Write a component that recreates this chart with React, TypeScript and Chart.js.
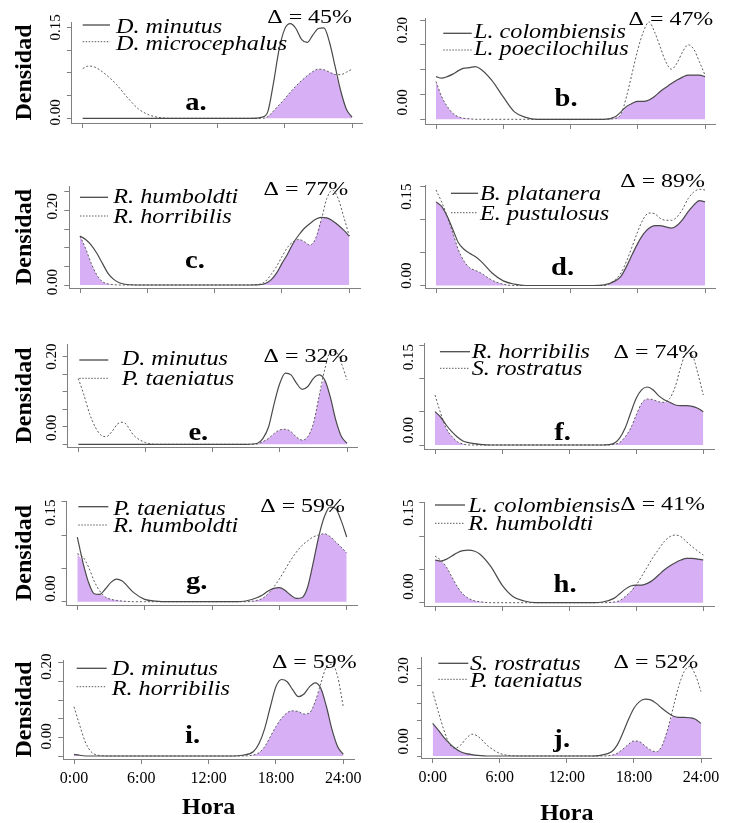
import React, { useEffect, useRef } from 'react';
import { Chart, registerables } from 'chart.js';

Chart.register(...registerables);

const W = 730;
const H = 823;
const FONT = "'Liberation Serif', 'Times New Roman', Times, serif";
const AXIS_COLOR = '#808080';
const SOLID_COLOR = '#4a4a4a';
const DOT_COLOR = '#5c5c5c';
const FILL_COLOR = '#d7aff5';

// ---------- data ----------
const HOURS = [0, 0.5, 1, 1.5, 2, 2.5, 3, 3.5, 4, 5, 6, 7, 8, 9, 10, 11, 12, 13, 14, 15, 16, 16.5, 17, 17.5, 18, 18.5, 19, 19.5, 20, 20.5, 21, 21.5, 22, 22.5, 23, 23.5, 24];

const X_TICKS = [0, 6, 12, 18, 24];
const X_TICK_LABELS = ['0:00', '6:00', '12:00', '18:00', '24:00'];

const PANEL_LETTERS = ['a.', 'b.', 'c.', 'd.', 'e.', 'f.', 'g.', 'h.', 'i.', 'j.'];
const SOLID_NAMES = ['D. minutus', 'L. colombiensis', 'R. humboldti', 'B. platanera', 'D. minutus', 'R. horribilis', 'P. taeniatus', 'L. colombiensis', 'D. minutus', 'S. rostratus'];
const DOTTED_NAMES = ['D. microcephalus', 'L. poecilochilus', 'R. horribilis', 'E. pustulosus', 'P. taeniatus', 'S. rostratus', 'R. humboldti', 'R. humboldti', 'R. horribilis', 'P. taeniatus'];
const OVERLAP_PCT = ['45%', '47%', '77%', '89%', '32%', '74%', '59%', '41%', '59%', '52%'];

const A_SOLID = [0, 0, 0, 0, 0, 0, 0, 0, 0, 0, 0, 0, 0, 0, 0, 0, 0, 0, 0, 0,
  0.002, 0.011, 0.058, 0.113, 0.147, 0.156, 0.148, 0.130, 0.125, 0.137, 0.148, 0.149, 0.125, 0.085, 0.045, 0.015, 0.002];
const A_DOTTED = [0.082, 0.086, 0.085, 0.080, 0.073, 0.065, 0.056, 0.045, 0.034, 0.015, 0.005, 0.001, 0, 0, 0, 0, 0, 0, 0, 0,
  0, 0.003, 0.012, 0.022, 0.032, 0.043, 0.053, 0.062, 0.070, 0.077, 0.081, 0.080, 0.076, 0.072, 0.072, 0.076, 0.081];

const B_SOLID = [0.086, 0.083, 0.086, 0.091, 0.098, 0.103, 0.104, 0.106, 0.101, 0.078, 0.045, 0.015, 0.004, 0, 0, 0, 0, 0, 0, 0,
  0.005, 0.015, 0.026, 0.032, 0.036, 0.036, 0.039, 0.046, 0.056, 0.064, 0.072, 0.079, 0.085, 0.089, 0.089, 0.089, 0.086];
const B_DOTTED = [0.076, 0.046, 0.026, 0.012, 0.005, 0.002, 0.001, 0, 0, 0, 0, 0, 0, 0, 0, 0, 0, 0, 0, 0,
  0.002, 0.010, 0.046, 0.093, 0.140, 0.176, 0.196, 0.176, 0.146, 0.116, 0.101, 0.113, 0.136, 0.150, 0.141, 0.116, 0.089];

const C_SOLID = [0.131, 0.122, 0.107, 0.085, 0.058, 0.031, 0.015, 0.006, 0.002, 0, 0, 0, 0, 0, 0, 0, 0, 0, 0, 0,
  0.001, 0.004, 0.013, 0.031, 0.058, 0.083, 0.112, 0.134, 0.152, 0.165, 0.176, 0.181, 0.180, 0.172, 0.161, 0.147, 0.131];
const C_DOTTED = [0.131, 0.098, 0.058, 0.027, 0.009, 0.003, 0.001, 0, 0, 0, 0, 0, 0, 0, 0, 0, 0, 0, 0, 0,
  0.002, 0.009, 0.027, 0.049, 0.076, 0.101, 0.116, 0.122, 0.116, 0.107, 0.125, 0.174, 0.232, 0.254, 0.232, 0.183, 0.131];

const D_SOLID = [0.127, 0.120, 0.105, 0.085, 0.065, 0.055, 0.049, 0.044, 0.037, 0.019, 0.007, 0.002, 0, 0, 0, 0, 0, 0, 0, 0.001,
  0.007, 0.014, 0.029, 0.047, 0.064, 0.078, 0.087, 0.091, 0.091, 0.089, 0.087, 0.091, 0.100, 0.112, 0.122, 0.129, 0.127];
const D_DOTTED = [0.145, 0.127, 0.105, 0.080, 0.054, 0.037, 0.027, 0.023, 0.019, 0.008, 0.002, 0, 0, 0, 0, 0, 0, 0, 0, 0,
  0.009, 0.019, 0.037, 0.059, 0.082, 0.101, 0.110, 0.109, 0.102, 0.099, 0.099, 0.104, 0.116, 0.132, 0.142, 0.146, 0.145];

const E_SOLID = [0, 0, 0, 0, 0, 0, 0, 0, 0, 0, 0, 0, 0, 0, 0, 0, 0, 0, 0, 0,
  0.003, 0.017, 0.050, 0.117, 0.174, 0.203, 0.198, 0.174, 0.157, 0.165, 0.188, 0.198, 0.184, 0.136, 0.069, 0.022, 0.003];
const E_DOTTED = [0.188, 0.141, 0.088, 0.050, 0.027, 0.022, 0.036, 0.058, 0.063, 0.024, 0.005, 0, 0, 0, 0, 0, 0, 0, 0, 0,
  0.001, 0.008, 0.017, 0.031, 0.041, 0.043, 0.036, 0.020, 0.012, 0.022, 0.060, 0.136, 0.212, 0.262, 0.265, 0.231, 0.184];

const F_SOLID = [0.050, 0.042, 0.030, 0.020, 0.012, 0.006, 0.0035, 0.002, 0.001, 0, 0, 0, 0, 0, 0, 0, 0, 0, 0, 0,
  0.0025, 0.010, 0.025, 0.048, 0.070, 0.083, 0.087, 0.083, 0.074, 0.068, 0.064, 0.060, 0.059, 0.059, 0.058, 0.055, 0.050];
const F_DOTTED = [0.075, 0.048, 0.025, 0.013, 0.005, 0.0015, 0, 0, 0, 0, 0, 0, 0, 0, 0, 0, 0, 0, 0, 0,
  0.001, 0.0035, 0.012, 0.025, 0.045, 0.063, 0.069, 0.068, 0.065, 0.064, 0.070, 0.088, 0.118, 0.138, 0.135, 0.108, 0.075];

const G_SOLID = [0.097, 0.059, 0.029, 0.012, 0.011, 0.019, 0.029, 0.034, 0.031, 0.014, 0.0035, 0.001, 0, 0, 0, 0, 0, 0, 0, 0.001,
  0.006, 0.010, 0.016, 0.020, 0.021, 0.017, 0.010, 0.005, 0.006, 0.021, 0.057, 0.097, 0.127, 0.142, 0.140, 0.122, 0.097];
const G_DOTTED = [0.072, 0.067, 0.052, 0.031, 0.016, 0.007, 0.0035, 0.002, 0.001, 0, 0, 0, 0, 0, 0, 0, 0, 0, 0, 0,
  0.002, 0.005, 0.012, 0.022, 0.034, 0.048, 0.062, 0.074, 0.084, 0.091, 0.097, 0.100, 0.102, 0.098, 0.090, 0.082, 0.073];

const H_SOLID = [0.064, 0.0625, 0.065, 0.070, 0.075, 0.078, 0.079, 0.0775, 0.073, 0.054, 0.0265, 0.009, 0.0025, 0, 0, 0, 0, 0, 0, 0.001,
  0.0065, 0.013, 0.020, 0.025, 0.0265, 0.0265, 0.029, 0.034, 0.0415, 0.049, 0.055, 0.060, 0.064, 0.0665, 0.0665, 0.0655, 0.064];
const H_DOTTED = [0.070, 0.064, 0.054, 0.039, 0.024, 0.013, 0.0065, 0.003, 0.0015, 0, 0, 0, 0, 0, 0, 0, 0, 0, 0, 0,
  0.001, 0.003, 0.009, 0.0165, 0.0265, 0.040, 0.054, 0.068, 0.080, 0.0915, 0.099, 0.1015, 0.099, 0.0915, 0.084, 0.0775, 0.0715];

const I_SOLID = [0.0045, 0.002, 0, 0, 0, 0, 0, 0, 0, 0, 0, 0, 0, 0, 0, 0, 0, 0, 0, 0.002,
  0.012, 0.034, 0.074, 0.132, 0.186, 0.205, 0.199, 0.177, 0.159, 0.166, 0.186, 0.196, 0.181, 0.132, 0.070, 0.025, 0.0045];
const I_DOTTED = [0.132, 0.083, 0.038, 0.012, 0.003, 0.001, 0, 0, 0, 0, 0, 0, 0, 0, 0, 0, 0, 0, 0, 0,
  0.003, 0.009, 0.025, 0.052, 0.079, 0.101, 0.116, 0.121, 0.119, 0.1125, 0.116, 0.146, 0.195, 0.239, 0.246, 0.2125, 0.132];

const J_SOLID = [0.093, 0.074, 0.053, 0.036, 0.022, 0.012, 0.0067, 0.004, 0.002, 0, 0, 0, 0, 0, 0, 0, 0, 0, 0, 0.002,
  0.012, 0.031, 0.065, 0.103, 0.136, 0.155, 0.162, 0.160, 0.150, 0.136, 0.124, 0.114, 0.110, 0.110, 0.109, 0.105, 0.093];
const J_DOTTED = [0.1835, 0.1265, 0.074, 0.034, 0.022, 0.031, 0.050, 0.062, 0.057, 0.027, 0.0076, 0.001, 0, 0, 0, 0, 0, 0, 0, 0,
  0.002, 0.0076, 0.019, 0.033, 0.043, 0.041, 0.0285, 0.017, 0.012, 0.0285, 0.074, 0.136, 0.198, 0.241, 0.255, 0.231, 0.1835];

const SOLID_SERIES = [A_SOLID, B_SOLID, C_SOLID, D_SOLID, E_SOLID, F_SOLID, G_SOLID, H_SOLID, I_SOLID, J_SOLID];
const DOTTED_SERIES = [A_DOTTED, B_DOTTED, C_DOTTED, D_DOTTED, E_DOTTED, F_DOTTED, G_DOTTED, H_DOTTED, I_DOTTED, J_DOTTED];

const Y_TICKS_A = [0, 0.0375, 0.075, 0.1125, 0.15];
const Y_TICKS_5 = [0, 0.05, 0.1, 0.15, 0.2];
const Y_TICKS_6 = [0, 0.05, 0.1, 0.15, 0.2, 0.25];
const Y_TICKS_4 = [0, 0.05, 0.1, 0.15];
const Y_TICKS = [Y_TICKS_A, Y_TICKS_5, Y_TICKS_6, Y_TICKS_4, Y_TICKS_6, Y_TICKS_4, Y_TICKS_4, Y_TICKS_4, Y_TICKS_6, Y_TICKS_6];

const Y_LABELS = [
  ['0.00', '', '', '', '0.15'],
  ['0.00', '', '', '', '0.20'],
  ['0.00', '', '', '', '0.20', ''],
  ['0.00', '', '', '0.15'],
  ['', '0.00', '', '', '', '0.20'],
  ['0.00', '', '', '0.15'],
  ['0.00', '', '', '0.15'],
  ['0.00', '', '', '0.15'],
  ['', '0.00', '', '', '', '0.20'],
  ['', '0.00', '', '', '', '0.20'],
];

// ---------- layout (page pixels) ----------
type Layout = {
  cellLeft: number; t0: number; t24: number; T: number; B: number; tick0: number; tickTop: number;
  leg: { x0: number; x1: number; tx: number; y1: number; y2: number; b1: number; b2: number };
  delta: { x: number; y: number }; letter: { x: number; y: number }; ylx: number; yShift: number[];
  horaY?: number;
};

const LAYOUT: Layout[] = [
  { cellLeft: 0, t0: 82.7, t24: 352, T: 22, B: 123, tick0: 118.3, tickTop: 27.3,
    leg: { x0: 82.7, x1: 110, tx: 116, y1: 25, y2: 41.7, b1: 33.3, b2: 50 }, delta: { x: 352, y: 23.3 }, letter: { x: 196, y: 110 }, ylx: 16, yShift: [-6, 0, 0, 0, 0] },
  { cellLeft: 365, t0: 436, t24: 705, T: 18, B: 124, tick0: 119.3, tickTop: 20,
    leg: { x0: 443.3, x1: 471.7, tx: 474, y1: 33.3, y2: 50, b1: 38.3, b2: 55 }, delta: { x: 713.3, y: 25 }, letter: { x: 566, y: 106 }, ylx: 22, yShift: [-17, 0, 0, 0, 10] },
  { cellLeft: 0, t0: 80, t24: 349.3, T: 186, B: 288, tick0: 285, tickTop: 191.7,
    leg: { x0: 80, x1: 108, tx: 113.3, y1: 197.3, y2: 216, b1: 203.3, b2: 223 }, delta: { x: 348.3, y: 195 }, letter: { x: 195, y: 268.3 }, ylx: 16, yShift: [-3, 0, 0, 0, -4, 0] },
  { cellLeft: 365, t0: 436, t24: 705, T: 185, B: 288, tick0: 285.5, tickTop: 186.7,
    leg: { x0: 451, x1: 478, tx: 480, y1: 193.3, y2: 212.7, b1: 200, b2: 220 }, delta: { x: 705, y: 186.7 }, letter: { x: 562.5, y: 275 }, ylx: 18, yShift: [-10, 0, 0, 10] },
  { cellLeft: 0, t0: 78.3, t24: 347, T: 344, B: 447, tick0: 444.3, tickTop: 356.7,
    leg: { x0: 79.3, x1: 108.3, tx: 121.7, y1: 360, y2: 378.3, b1: 365, b2: 385 }, delta: { x: 348.3, y: 361.7 }, letter: { x: 198.3, y: 440 }, ylx: 15, yShift: [0, 1, 0, 0, 0, 0] },
  { cellLeft: 365, t0: 435, t24: 703.3, T: 343, B: 449, tick0: 445, tickTop: 345,
    leg: { x0: 440, x1: 470, tx: 471.7, y1: 351.7, y2: 368.3, b1: 358, b2: 375 }, delta: { x: 698.3, y: 358 }, letter: { x: 562.5, y: 440 }, ylx: 15, yShift: [-15, 0, 0, 12] },
  { cellLeft: 0, t0: 77.3, t24: 346.7, T: 501, B: 605, tick0: 601.7, tickTop: 501.7,
    leg: { x0: 78.3, x1: 108.3, tx: 113.3, y1: 506.7, y2: 525, b1: 515, b2: 532 }, delta: { x: 345, y: 511.7 }, letter: { x: 196.7, y: 589.3 }, ylx: 15, yShift: [-13, 0, 0, 11] },
  { cellLeft: 365, t0: 435, t24: 703.3, T: 502, B: 606, tick0: 602.7, tickTop: 502.7,
    leg: { x0: 435, x1: 465, tx: 468.3, y1: 505, y2: 523.3, b1: 512, b2: 530 }, delta: { x: 705, y: 510 }, letter: { x: 565, y: 591.7 }, ylx: 15, yShift: [-16, 0, 0, 10] },
  { cellLeft: 0, t0: 74, t24: 343.3, T: 660, B: 759, tick0: 756, tickTop: 662.7,
    leg: { x0: 76.7, x1: 106.7, tx: 111.7, y1: 668.3, y2: 686.7, b1: 675, b2: 695 }, delta: { x: 356.7, y: 668 }, letter: { x: 192.5, y: 743.3 }, ylx: 16, yShift: [0, -1, 0, 0, 0, 4], horaY: 808 },
  { cellLeft: 365, t0: 432.7, t24: 701, T: 657, B: 758, tick0: 756, tickTop: 668.3,
    leg: { x0: 438.3, x1: 468.3, tx: 470, y1: 663.3, y2: 679.3, b1: 670, b2: 687 }, delta: { x: 698.3, y: 668 }, letter: { x: 561.7, y: 746.7 }, ylx: 18, yShift: [0, 3, 0, 0, 0, 2], horaY: 814 },
];

function stretchText(ctx: CanvasRenderingContext2D, text: string, x: number, y: number, align: CanvasTextAlign, font: string, sx: number) {
  ctx.save();
  ctx.font = font;
  ctx.textAlign = align;
  ctx.textBaseline = 'alphabetic';
  ctx.fillStyle = '#000';
  ctx.translate(x, y);
  ctx.scale(sx, 1);
  ctx.fillText(text, 0, 0);
  ctx.restore();
}

function buildChart(canvas: HTMLCanvasElement, i: number) {
  const lay = LAYOUT[i];
  const span = lay.t24 - lay.t0;
  const xMin = -0.04 * 24;
  const xMax = 24 + 0.04 * 24;
  const L = lay.t0 - 0.04 * span;
  const R = lay.t24 + 0.04 * span;
  const yT = Y_TICKS[i];
  const topVal = yT[yT.length - 1];
  const ppu = (lay.tick0 - lay.tickTop) / topVal;
  const yMin = -(lay.B - lay.tick0) / ppu;
  const yMax = topVal + (lay.tickTop - lay.T) / ppu;
  const isLeft = lay.cellLeft === 0;
  const isBottom = i >= 8;
  const xAxisH = isBottom ? H - lay.B : 12;
  const padBottom = H - lay.B - xAxisH;
  const horaPad = isBottom ? H - (lay.horaY || 808) - 14.4 : 0;

  const solid = SOLID_SERIES[i];
  const dotted = DOTTED_SERIES[i];
  const overlap = solid.map((v, k) => Math.min(v, dotted[k]));
  const pts = (arr: number[]) => HOURS.map((h, k) => ({ x: h, y: arr[k] }));

  const textPlugin = {
    id: 'panelText',
    afterDraw(c: any) {
      const ctx: CanvasRenderingContext2D = c.ctx;
      const ys = c.scales.y;
      ctx.save();
      // rotated y tick labels
      ctx.fillStyle = '#000';
      ctx.font = `15px ${FONT}`;
      ctx.textAlign = 'center';
      ctx.textBaseline = 'middle';
      Y_LABELS[i].forEach((t, k) => {
        if (!t) return;
        const py = ys.getPixelForValue(yT[k]) + lay.yShift[k];
        ctx.save();
        ctx.translate(c.chartArea.left - lay.ylx, py);
        ctx.rotate(-Math.PI / 2);
        ctx.fillText(t, 0, 0);
        ctx.restore();
      });
      // legend samples
      ctx.lineWidth = 1.3;
      ctx.strokeStyle = SOLID_COLOR;
      ctx.setLineDash([]);
      ctx.beginPath();
      ctx.moveTo(lay.leg.x0, lay.leg.y1);
      ctx.lineTo(lay.leg.x1, lay.leg.y1);
      ctx.stroke();
      ctx.lineWidth = 1;
      ctx.strokeStyle = DOT_COLOR;
      ctx.setLineDash([1.5, 1.5]);
      ctx.beginPath();
      ctx.moveTo(lay.leg.x0, lay.leg.y2);
      ctx.lineTo(lay.leg.x1, lay.leg.y2);
      ctx.stroke();
      ctx.setLineDash([]);
      stretchText(ctx, SOLID_NAMES[i], lay.leg.tx, lay.leg.b1, 'left', `italic 22px ${FONT}`, 1.1);
      stretchText(ctx, DOTTED_NAMES[i], lay.leg.tx, lay.leg.b2, 'left', `italic 22px ${FONT}`, 1.1);
      stretchText(ctx, '\u0394 = ' + OVERLAP_PCT[i], lay.delta.x, lay.delta.y, 'right', `19px ${FONT}`, 1.26);
      stretchText(ctx, PANEL_LETTERS[i], lay.letter.x, lay.letter.y, 'center', `bold 26px ${FONT}`, 1.1);
      ctx.restore();
    },
  };

  const lineCommon = {
    pointRadius: 0,
    cubicInterpolationMode: 'monotone' as const,
    fill: false,
  };

  return new Chart(canvas, {
    type: 'line',
    data: {
      datasets: [
        { ...lineCommon, label: SOLID_NAMES[i], data: pts(solid), borderColor: SOLID_COLOR, borderWidth: 1.2, order: 1 },
        { ...lineCommon, label: DOTTED_NAMES[i], data: pts(dotted), borderColor: DOT_COLOR, borderWidth: 1, borderDash: [2, 2], order: 2 },
        { ...lineCommon, label: 'overlap', data: pts(overlap), borderColor: 'rgba(0,0,0,0)', borderWidth: 0, backgroundColor: FILL_COLOR, fill: 'origin', order: 3 },
      ],
    },
    options: {
      animation: false,
      responsive: false,
      devicePixelRatio: 1,
      events: [],
      layout: { padding: { left: lay.cellLeft, right: W - R, top: lay.T, bottom: padBottom } },
      plugins: { legend: { display: false }, tooltip: { enabled: false }, title: { display: false } },
      scales: {
        x: {
          type: 'linear',
          min: xMin,
          max: xMax,
          afterBuildTicks: (s: any) => { s.ticks = X_TICKS.map((v) => ({ value: v })); },
          afterFit: (s: any) => { s.height = xAxisH; },
          ticks: {
            display: isBottom,
            autoSkip: false,
            maxRotation: 0,
            minRotation: 0,
            padding: 5,
            color: '#000',
            font: { family: FONT, size: 16 },
            callback: (v: any) => X_TICK_LABELS[X_TICKS.indexOf(Number(v))],
          },
          grid: { drawOnChartArea: false, drawTicks: true, tickLength: 5, color: AXIS_COLOR, lineWidth: 1 },
          border: { display: true, color: AXIS_COLOR, width: 1 },
          title: isBottom
            ? { display: true, text: 'Hora', color: '#000', font: { family: FONT, size: 24, weight: 'bold' }, padding: { top: 0, bottom: horaPad } }
            : { display: false },
        },
        y: {
          type: 'linear',
          min: yMin,
          max: yMax,
          afterBuildTicks: (s: any) => { s.ticks = yT.map((v) => ({ value: v })); },
          afterFit: (s: any) => { s.width = L - lay.cellLeft; },
          ticks: { display: false },
          grid: { drawOnChartArea: false, drawTicks: true, tickLength: 5, color: AXIS_COLOR, lineWidth: 1 },
          border: { display: true, color: AXIS_COLOR, width: 1 },
          title: isLeft
            ? { display: true, text: 'Densidad', color: '#000', font: { family: FONT, size: 24, weight: 'bold' }, padding: { top: 10.5, bottom: 0 } }
            : { display: false },
        },
      },
    } as any,
    plugins: [textPlugin],
  });
}

function Panel({ idx }: { idx: number }) {
  const ref = useRef<HTMLCanvasElement>(null);
  useEffect(() => {
    const canvas = ref.current;
    if (!canvas) return;
    const chart = buildChart(canvas, idx);
    return () => chart.destroy();
  }, [idx]);
  return (
    <canvas
      ref={ref}
      width={W}
      height={H}
      style={{ position: 'absolute', left: 0, top: 0, width: W, height: H }}
    />
  );
}

export default function App() {
  return (
    <div style={{ position: 'absolute', left: 0, top: 0, width: W, height: H, background: '#fff', overflow: 'hidden' }}>
      {PANEL_LETTERS.map((_, i) => (
        <Panel key={i} idx={i} />
      ))}
    </div>
  );
}
